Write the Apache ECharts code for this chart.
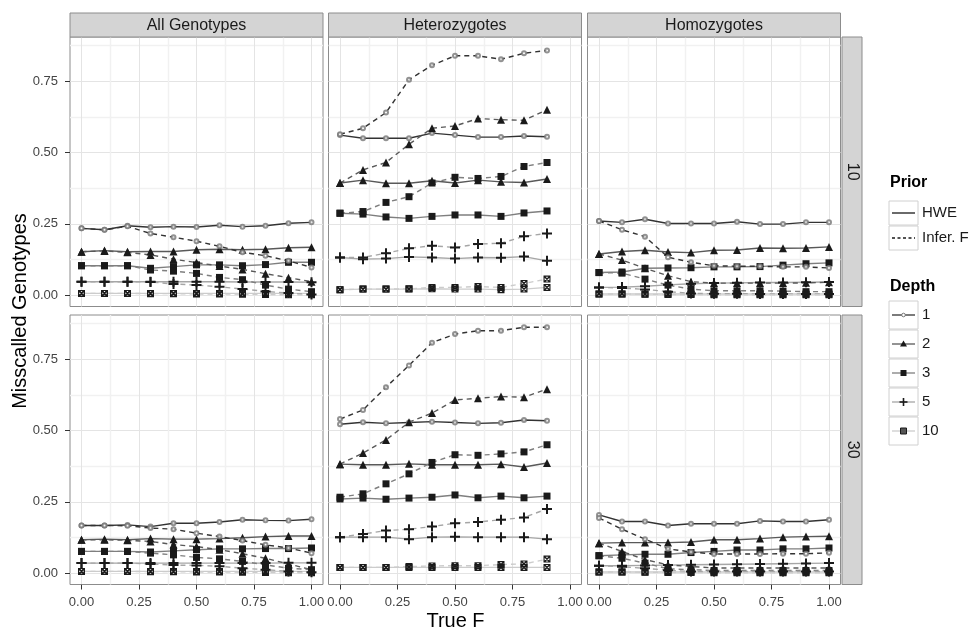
<!DOCTYPE html>
<html><head><meta charset="utf-8">
<script src="https://cdn.jsdelivr.net/npm/echarts@6/dist/echarts.min.js"></script>
<style>html,body{margin:0;padding:0;background:#fff}#c{width:975px;height:630px}</style>
</head><body><div id="c"></div>
<script>
const trueF = [0, 0.1, 0.2, 0.3, 0.4, 0.5, 0.6, 0.7, 0.8, 0.9, 1.0];
const trueFHet = [0, 0.1, 0.2, 0.3, 0.4, 0.5, 0.6, 0.7, 0.8, 0.9];
const depthLabels = ['1', '2', '3', '5', '10'];
const priorLabels = ['HWE', 'Infer. F'];
const genotypeLabels = ['All Genotypes', 'Heterozygotes', 'Homozygotes'];
const meanDepthLabels = ['10', '30'];
const xTicks = [0, 0.25, 0.5, 0.75, 1];
const xMinor = [0.125, 0.375, 0.625, 0.875];
const yTicks = [0, 0.25, 0.5, 0.75];
const yMinor = [0.125, 0.375, 0.625, 0.875];

// rows: depth 1, 2, 3, 5, 10
const all10HWE = [
  [0.234,0.229,0.243,0.238,0.240,0.239,0.245,0.240,0.243,0.252,0.255],
  [0.152,0.156,0.152,0.153,0.153,0.159,0.161,0.159,0.161,0.166,0.168],
  [0.103,0.103,0.103,0.094,0.100,0.106,0.106,0.103,0.107,0.115,0.115],
  [0.047,0.047,0.047,0.047,0.047,0.047,0.047,0.046,0.046,0.046,0.045],
  [0.006,0.006,0.006,0.006,0.006,0.006,0.006,0.006,0.006,0.006,0.006]];
const all10Inf = [
  [0.234,0.229,0.241,0.216,0.203,0.189,0.171,0.150,0.138,0.120,0.097],
  [0.152,0.155,0.150,0.141,0.126,0.114,0.102,0.090,0.075,0.061,0.047],
  [0.103,0.103,0.103,0.088,0.084,0.076,0.062,0.054,0.035,0.021,0.012],
  [0.047,0.047,0.047,0.046,0.039,0.035,0.029,0.021,0.013,0.007,0.002],
  [0.006,0.006,0.006,0.005,0.005,0.004,0.004,0.003,0.002,0.001,0.001]];
const het10HWE = [
  [0.561,0.550,0.550,0.550,0.568,0.561,0.554,0.554,0.558,0.555],
  [0.393,0.403,0.392,0.392,0.401,0.393,0.403,0.397,0.395,0.407],
  [0.287,0.284,0.274,0.269,0.276,0.281,0.281,0.276,0.288,0.295],
  [0.132,0.126,0.128,0.134,0.132,0.128,0.132,0.131,0.135,0.120],
  [0.019,0.021,0.021,0.021,0.022,0.021,0.021,0.019,0.021,0.027]];
const het10Inf = [
  [0.564,0.585,0.640,0.755,0.806,0.839,0.839,0.827,0.848,0.858],
  [0.393,0.439,0.465,0.529,0.585,0.593,0.619,0.615,0.613,0.650],
  [0.287,0.293,0.325,0.345,0.393,0.413,0.409,0.416,0.451,0.465],
  [0.132,0.132,0.147,0.164,0.173,0.167,0.179,0.182,0.206,0.216],
  [0.019,0.021,0.021,0.022,0.027,0.027,0.030,0.027,0.041,0.056]];
const hom10HWE = [
  [0.260,0.255,0.266,0.251,0.251,0.251,0.257,0.249,0.249,0.255,0.255],
  [0.144,0.153,0.157,0.151,0.149,0.157,0.158,0.165,0.164,0.165,0.169],
  [0.079,0.081,0.094,0.095,0.096,0.099,0.099,0.100,0.105,0.110,0.113],
  [0.027,0.028,0.031,0.036,0.040,0.042,0.043,0.044,0.044,0.045,0.046],
  [0.004,0.004,0.004,0.004,0.004,0.004,0.004,0.004,0.004,0.004,0.004]];
const hom10Inf = [
  [0.260,0.229,0.205,0.133,0.115,0.103,0.101,0.101,0.099,0.099,0.095],
  [0.144,0.123,0.094,0.068,0.047,0.042,0.042,0.042,0.042,0.043,0.045],
  [0.079,0.077,0.056,0.035,0.021,0.015,0.015,0.015,0.014,0.012,0.012],
  [0.027,0.025,0.020,0.012,0.006,0.005,0.005,0.004,0.004,0.004,0.004],
  [0.004,0.004,0.003,0.002,0.002,0.001,0.001,0.001,0.001,0.001,0.001]];
const all30HWE = [
  [0.167,0.167,0.169,0.163,0.175,0.175,0.179,0.187,0.185,0.184,0.189],
  [0.117,0.119,0.117,0.121,0.119,0.119,0.121,0.124,0.128,0.130,0.130],
  [0.076,0.076,0.076,0.074,0.078,0.082,0.085,0.085,0.086,0.086,0.088],
  [0.035,0.035,0.035,0.035,0.035,0.035,0.035,0.035,0.035,0.036,0.036],
  [0.006,0.006,0.006,0.006,0.006,0.006,0.006,0.006,0.006,0.006,0.006]];
const all30Inf = [
  [0.167,0.167,0.166,0.158,0.154,0.140,0.128,0.114,0.099,0.088,0.070],
  [0.117,0.117,0.115,0.111,0.100,0.093,0.082,0.068,0.052,0.032,0.012],
  [0.076,0.076,0.076,0.070,0.064,0.055,0.050,0.041,0.029,0.017,0.012],
  [0.035,0.035,0.035,0.032,0.028,0.027,0.024,0.017,0.012,0.006,0.003],
  [0.006,0.006,0.006,0.005,0.005,0.004,0.004,0.003,0.002,0.001,0.001]];
const het30HWE = [
  [0.522,0.529,0.525,0.528,0.531,0.528,0.525,0.527,0.537,0.534],
  [0.382,0.380,0.380,0.383,0.380,0.380,0.380,0.382,0.372,0.386],
  [0.260,0.263,0.259,0.263,0.266,0.274,0.264,0.270,0.264,0.270],
  [0.126,0.126,0.126,0.119,0.126,0.127,0.126,0.126,0.126,0.119],
  [0.020,0.020,0.020,0.020,0.020,0.020,0.020,0.020,0.020,0.020]];
const het30Inf = [
  [0.540,0.572,0.652,0.728,0.808,0.838,0.850,0.850,0.862,0.862],
  [0.382,0.421,0.467,0.529,0.561,0.607,0.613,0.619,0.617,0.645],
  [0.266,0.278,0.313,0.348,0.388,0.415,0.413,0.418,0.425,0.450],
  [0.126,0.137,0.149,0.154,0.163,0.175,0.179,0.187,0.195,0.225],
  [0.020,0.020,0.020,0.023,0.025,0.026,0.026,0.030,0.032,0.049]];
const hom30HWE = [
  [0.204,0.181,0.181,0.167,0.173,0.173,0.173,0.183,0.181,0.181,0.187],
  [0.105,0.107,0.107,0.107,0.109,0.117,0.117,0.121,0.126,0.128,0.129],
  [0.061,0.064,0.066,0.066,0.072,0.076,0.081,0.081,0.085,0.085,0.088],
  [0.026,0.026,0.027,0.028,0.029,0.030,0.031,0.032,0.033,0.034,0.035],
  [0.004,0.004,0.004,0.004,0.004,0.004,0.004,0.004,0.004,0.004,0.004]];
const hom30Inf = [
  [0.193,0.154,0.119,0.085,0.074,0.067,0.067,0.067,0.068,0.068,0.071],
  [0.105,0.076,0.047,0.029,0.023,0.018,0.018,0.018,0.018,0.018,0.018],
  [0.061,0.052,0.035,0.015,0.012,0.009,0.009,0.009,0.009,0.009,0.009],
  [0.026,0.022,0.017,0.010,0.006,0.006,0.006,0.006,0.006,0.006,0.006],
  [0.004,0.004,0.003,0.002,0.002,0.001,0.001,0.001,0.001,0.001,0.001]];

const FONT = '"Liberation Sans", Arial, Helvetica, sans-serif';
const depthColors = ['#333333', '#595959', '#7f7f7f', '#a6a6a6', '#cccccc'];
const PLUS = 'path://M4,0H6V4H10V6H6V10H4V6H0V4H4Z';
const SQX = 'path://M0,0H10V10H0Z M1.6,1.6V8.4H8.4V1.6Z M1.6,1.6L3,1.6L8.4,7L8.4,8.4L7,8.4L1.6,3Z M8.4,1.6L8.4,3L3,8.4L1.6,8.4L1.6,7L7,1.6Z';
const depthSymbols = ['emptyCircle', 'triangle', 'rect', PLUS, SQX];
const depthSizes = [4, 8, 7, 10, 7];

const lefts = [70, 328.5, 587.5];
const tops = [37, 315];
const W = 253, H = 269.5;
const yMin = -0.04, yMax = 0.905, xMin = -0.05, xMax = 1.05;

const panelData = [
  [all10HWE, all10Inf, trueF], [het10HWE, het10Inf, trueFHet], [hom10HWE, hom10Inf, trueF],
  [all30HWE, all30Inf, trueF], [het30HWE, het30Inf, trueFHet], [hom30HWE, hom30Inf, trueF]];

const grids = [], xAxes = [], yAxes = [], series = [];
for (let r = 0; r < 2; r++) {
  for (let c = 0; c < 3; c++) {
    const g = r * 3 + c;
    grids.push({left: lefts[c], top: tops[r], width: W, height: H, show: true,
      backgroundColor: '#fff', borderColor: '#8c8c8c', borderWidth: 1, containLabel: false});
    const showX = r === 1, showY = c === 0;
    xAxes.push({type: 'value', gridIndex: g, min: xMin, max: xMax, position: 'bottom',
      axisLine: {show: false, onZero: false},
      axisTick: {show: showX, length: 5, lineStyle: {color: '#333', width: 1}, customValues: xTicks},
      axisLabel: {show: showX, customValues: xTicks, formatter: v => v.toFixed(2), fontSize: 13,
        color: '#444', fontFamily: FONT, margin: 11},
      splitLine: {show: true, lineStyle: {color: '#e4e4e4', width: 1}}});
    xAxes.push({type: 'value', gridIndex: g, min: xMin, max: xMax, position: 'bottom',
      axisLine: {show: false, onZero: false}, axisTick: {show: false, customValues: xMinor},
      axisLabel: {show: false, customValues: xMinor},
      splitLine: {show: true, lineStyle: {color: '#f1f1f1', width: 1.4}}});
    yAxes.push({type: 'value', gridIndex: g, min: yMin, max: yMax, position: 'left',
      axisLine: {show: false, onZero: false},
      axisTick: {show: showY, length: 5, lineStyle: {color: '#333', width: 1}, customValues: yTicks},
      axisLabel: {show: showY, customValues: yTicks, formatter: v => v.toFixed(2), fontSize: 13,
        color: '#444', fontFamily: FONT, margin: 12},
      splitLine: {show: true, lineStyle: {color: '#e4e4e4', width: 1}}});
    yAxes.push({type: 'value', gridIndex: g, min: yMin, max: yMax, position: 'left',
      axisLine: {show: false, onZero: false}, axisTick: {show: false, customValues: yMinor},
      axisLabel: {show: false, customValues: yMinor},
      splitLine: {show: true, lineStyle: {color: '#f1f1f1', width: 1.4}}});

    const [hwe, inf, xs] = panelData[g];
    [hwe, inf].forEach((vals, p) => {
      vals.forEach((row, d) => {
        series.push({type: 'line', name: priorLabels[p] + ' ' + depthLabels[d],
          xAxisIndex: g * 2, yAxisIndex: g * 2, data: xs.map((f, i) => [f, row[i]]),
          symbol: 'none', silent: true, z: 2,
          lineStyle: {color: depthColors[d], width: 1.4, type: p ? [5, 4] : 'solid'}});
      });
    });
    [hwe, inf].forEach((vals, p) => {
      vals.forEach((row, d) => {
        series.push({type: 'scatter', name: priorLabels[p] + ' ' + depthLabels[d],
          xAxisIndex: g * 2, yAxisIndex: g * 2, data: xs.map((f, i) => [f, row[i]]),
          symbol: depthSymbols[d], symbolSize: depthSizes[d], symbolKeepAspect: true,
          silent: true, z: 3,
          itemStyle: d === 0 ? {color: '#777', borderColor: '#777', borderWidth: 1}
                             : {color: '#1a1a1a', opacity: 1}});
      });
    });
  }
}

const graphic = [];
for (let c = 0; c < 3; c++) {
  graphic.push({type: 'rect', shape: {x: lefts[c], y: 13, width: W, height: 24},
    style: {fill: '#d4d4d4', stroke: '#8c8c8c', lineWidth: 1}, z: 10});
  graphic.push({type: 'text', x: lefts[c] + W / 2, y: 25.5, z: 11,
    style: {text: genotypeLabels[c], font: '16px ' + FONT, fill: '#1a1a1a', textAlign: 'center', textVerticalAlign: 'middle'}});
}
for (let r = 0; r < 2; r++) {
  graphic.push({type: 'rect', shape: {x: 842, y: tops[r], width: 20, height: H},
    style: {fill: '#d4d4d4', stroke: '#8c8c8c', lineWidth: 1}, z: 10});
  graphic.push({type: 'text', x: 852, y: tops[r] + H / 2, rotation: -Math.PI / 2, z: 11,
    style: {text: meanDepthLabels[r], font: '16px ' + FONT, fill: '#1a1a1a', textAlign: 'center', textVerticalAlign: 'middle'}});
}
graphic.push({type: 'text', x: 20, y: 311, rotation: Math.PI / 2, z: 11,
  style: {text: 'Misscalled Genotypes', font: '20px ' + FONT, fill: '#000', textAlign: 'center', textVerticalAlign: 'middle'}});
graphic.push({type: 'text', x: 455.5, y: 621, z: 11,
  style: {text: 'True F', font: '20px ' + FONT, fill: '#000', textAlign: 'center', textVerticalAlign: 'middle'}});

graphic.push({type: 'text', x: 890, y: 183, z: 11,
  style: {text: 'Prior', font: 'bold 16px ' + FONT, fill: '#000', textAlign: 'left', textVerticalAlign: 'middle'}});
priorLabels.forEach((lab, p) => {
  const y0 = 201 + p * 25, cy = y0 + 12;
  graphic.push({type: 'rect', shape: {x: 889, y: y0, width: 29, height: 24},
    style: {fill: '#fff', stroke: '#d0d0d0', lineWidth: 1}, z: 10});
  graphic.push({type: 'line', shape: {x1: 892, y1: cy, x2: 915, y2: cy},
    style: {stroke: '#1a1a1a', lineWidth: 1.3, lineDash: p ? [3, 2.5] : null}, z: 11});
  graphic.push({type: 'text', x: 922, y: cy, z: 11,
    style: {text: lab, font: '15px ' + FONT, fill: '#1a1a1a', textAlign: 'left', textVerticalAlign: 'middle'}});
});
graphic.push({type: 'text', x: 890, y: 287, z: 11,
  style: {text: 'Depth', font: 'bold 16px ' + FONT, fill: '#000', textAlign: 'left', textVerticalAlign: 'middle'}});
depthLabels.forEach((lab, d) => {
  const y0 = 301 + d * 29, cy = y0 + 14, cx = 903.5;
  graphic.push({type: 'rect', shape: {x: 889, y: y0, width: 29, height: 28},
    style: {fill: '#fff', stroke: '#d0d0d0', lineWidth: 1}, z: 10});
  graphic.push({type: 'line', shape: {x1: 892, y1: cy, x2: 915, y2: cy},
    style: {stroke: depthColors[d], lineWidth: 1.3}, z: 11});
  if (d === 0) {
    graphic.push({type: 'circle', shape: {cx: cx, cy: cy, r: 1.8}, style: {fill: '#fff', stroke: '#777', lineWidth: 1}, z: 12});
  } else if (d === 1) {
    graphic.push({type: 'polygon', shape: {points: [[cx, cy - 3.5], [cx + 3.5, cy + 2.5], [cx - 3.5, cy + 2.5]]}, style: {fill: '#1a1a1a'}, z: 12});
  } else if (d === 2) {
    graphic.push({type: 'rect', shape: {x: cx - 3, y: cy - 3, width: 6, height: 6}, style: {fill: '#1a1a1a'}, z: 12});
  } else if (d === 3) {
    graphic.push({type: 'line', shape: {x1: cx - 4, y1: cy, x2: cx + 4, y2: cy}, style: {stroke: '#1a1a1a', lineWidth: 1.6}, z: 12});
    graphic.push({type: 'line', shape: {x1: cx, y1: cy - 4, x2: cx, y2: cy + 4}, style: {stroke: '#1a1a1a', lineWidth: 1.6}, z: 12});
  } else {
    graphic.push({type: 'rect', shape: {x: cx - 3, y: cy - 3, width: 6, height: 6}, style: {fill: '#555', stroke: '#1a1a1a', lineWidth: 1}, z: 12});
  }
  graphic.push({type: 'text', x: 922, y: cy, z: 11,
    style: {text: lab, font: '15px ' + FONT, fill: '#1a1a1a', textAlign: 'left', textVerticalAlign: 'middle'}});
});

const chart = echarts.init(document.getElementById('c'), null, {renderer: 'canvas'});
chart.setOption({
  animation: false,
  backgroundColor: '#fff',
  textStyle: {fontFamily: FONT},
  grid: grids, xAxis: xAxes, yAxis: yAxes, series: series, graphic: graphic
});
</script></body></html>
